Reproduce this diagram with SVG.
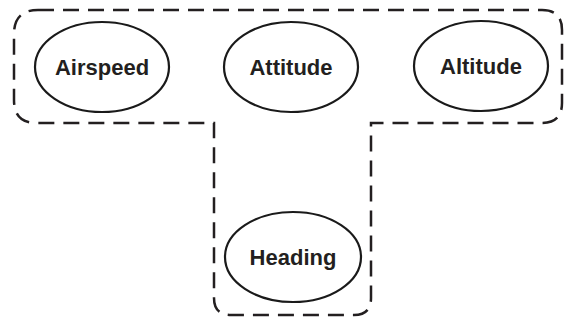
<svg xmlns="http://www.w3.org/2000/svg" width="565" height="322" viewBox="0 0 565 322">
<style>
.n ellipse{fill:#fff;stroke:#1a1a1a;stroke-width:2.2}
.n text{font-family:"Liberation Sans",Arial,sans-serif;font-weight:bold;font-size:22px;fill:#231f20;text-anchor:middle}
.grp{fill:none;stroke:#231f20;stroke-width:2.5;stroke-dasharray:16 9}
</style>
<rect width="565" height="322" fill="#fff"/>
<g id="connectors">
<path class="grp" d="M38,10 H542 Q562,10 562,30 V103 Q562,123 542,123 H371 V298 Q371,315 354,315 H231 Q214,315 214,298 V123 H36 Q14,123 14,100 V34 Q14,10 38,10 Z"/>
</g>
<g id="airspeed" class="n"><ellipse cx="102" cy="67" rx="67" ry="45"/><text x="102" y="75">Airspeed</text></g>
<g id="attitude" class="n"><ellipse cx="291" cy="67" rx="67" ry="45"/><text x="291" y="75">Attitude</text></g>
<g id="altitude" class="n"><ellipse cx="481" cy="66" rx="67" ry="45"/><text x="481" y="74">Altitude</text></g>
<g id="heading" class="n"><ellipse cx="293" cy="257" rx="68" ry="45"/><text x="293" y="265">Heading</text></g>
</svg>
